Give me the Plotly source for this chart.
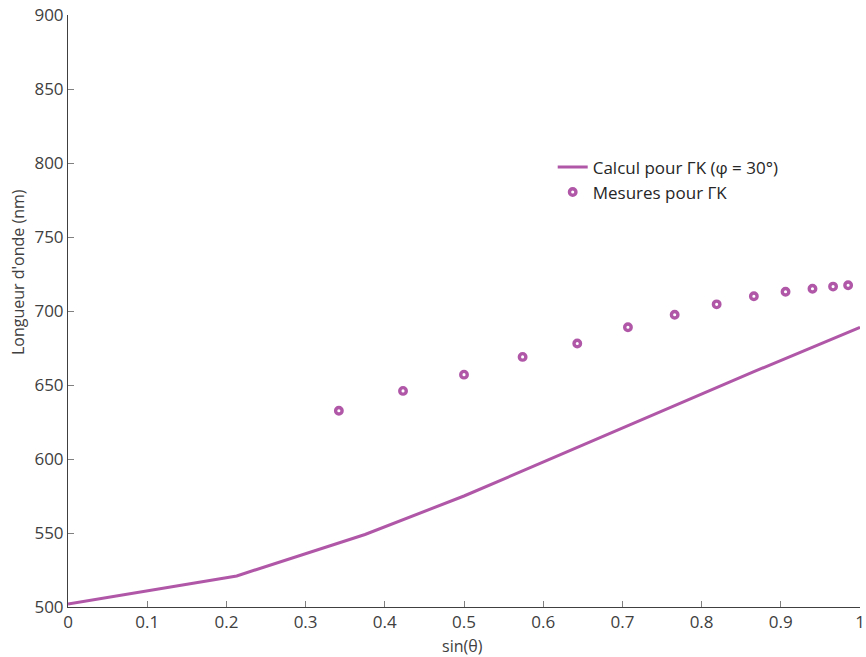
import plotly.graph_objects as go

# Calculated curve for ΓK (φ = 30°)
calc_x = [0.0, 0.213, 0.375, 0.5, 0.866, 1.0]
calc_y = [502, 521, 549, 575, 659, 689]

# Measurements for ΓK
meas_x = [0.342, 0.423, 0.5, 0.574, 0.643, 0.707, 0.766, 0.819, 0.866, 0.906, 0.940, 0.966, 0.985]
meas_y = [632.6, 646, 657, 669, 678, 689, 697.5, 704.5, 710, 713, 715, 716.5, 717.4]

x_ticks = [0, 0.1, 0.2, 0.3, 0.4, 0.5, 0.6, 0.7, 0.8, 0.9, 1]
x_tick_labels = ["0", "0.1", "0.2", "0.3", "0.4", "0.5", "0.6", "0.7", "0.8", "0.9", "1"]
y_ticks = [500, 550, 600, 650, 700, 750, 800, 850, 900]

x_title = "sin(θ)"
y_title = "Longueur d'onde (nm)"

color = "#b057a8"
font_family = "Open Sans, Noto Sans, sans-serif"

fig = go.Figure()
fig.add_trace(go.Scatter(
    x=calc_x, y=calc_y, mode="lines",
    line=dict(color=color, width=3),
    name="Calcul pour ΓK (φ = 30°)",
))
fig.add_trace(go.Scatter(
    x=meas_x, y=meas_y, mode="markers",
    marker=dict(symbol="circle", size=6.5, color="white", line=dict(color=color, width=3.4)),
    name="Mesures pour ΓK",
))

fig.update_layout(
    width=866, height=657,
    margin=dict(l=68, r=6, t=15, b=50),
    paper_bgcolor="white", plot_bgcolor="white",
    font=dict(family=font_family, size=15, color="#404040"),
    showlegend=True,
    legend=dict(
        x=0.612, y=0.773, xanchor="left", yanchor="top",
        bgcolor="rgba(0,0,0,0)", font=dict(size=17, color="#262626"),
        tracegroupgap=0, itemwidth=30,
    ),
    xaxis=dict(
        range=[0, 1], tickvals=x_ticks, ticktext=x_tick_labels, automargin=False,
        showgrid=False, zeroline=False, showline=True, linecolor="#404040", linewidth=1,
        ticks="inside", ticklen=6, tickcolor="#808080",
        tickfont=dict(size=17, color="#404040"),
    ),
    yaxis=dict(
        range=[500, 900], tickvals=y_ticks, automargin=False,
        showgrid=False, zeroline=False, showline=True, linecolor="#404040", linewidth=1,
        ticks="inside", ticklen=6, tickcolor="#808080",
        tickfont=dict(size=17, color="#404040"),
    ),
    annotations=[
        dict(text=x_title, xref="paper", yref="paper", x=0.4975, y=-0.066,
             xanchor="center", yanchor="middle", showarrow=False,
             font=dict(size=16, color="#404040")),
        dict(text=y_title, xref="paper", yref="paper", x=-0.063, y=0.566,
             xanchor="center", yanchor="middle", showarrow=False, textangle=-90,
             font=dict(size=16, color="#404040")),
    ],
)

fig.write_html("out.html", config={"displayModeBar": False},
               post_script="document.body.style.margin='0px';")
